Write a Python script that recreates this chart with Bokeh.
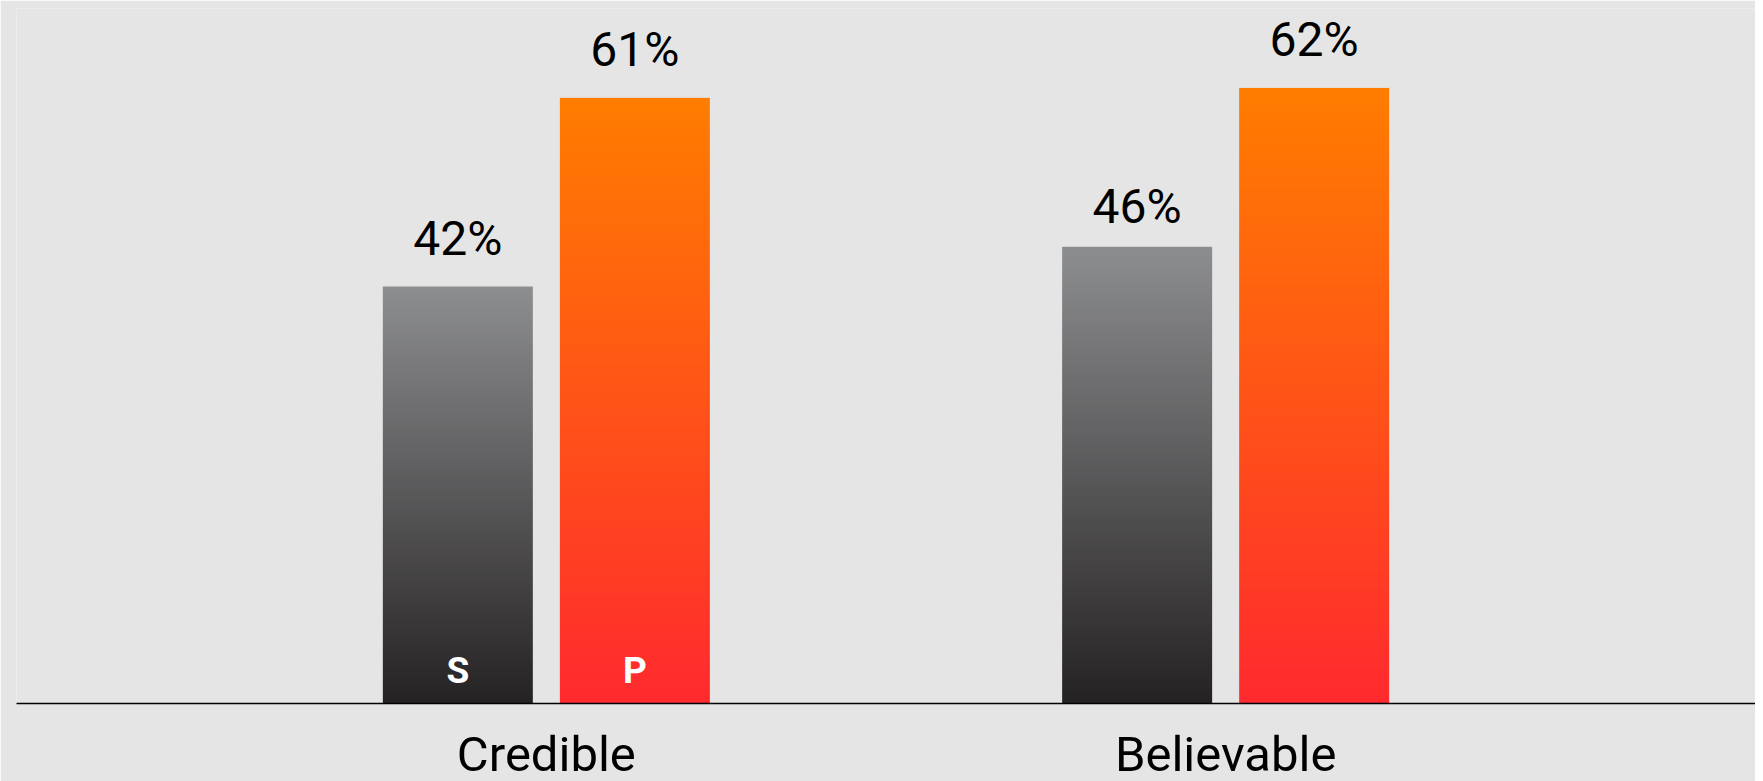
import numpy as np
from bokeh.plotting import figure
from bokeh.models import ColumnDataSource, FactorRange, Range1d
from bokeh.transform import dodge
from bokeh.core.properties import value
from bokeh.embed import file_html
from bokeh.resources import INLINE

# ---- data ----
categories = ["Credible", "Believable"]
series_names = ["S", "P"]
s_values = [42, 46]
p_values = [61, 62]

# ---- styles ----
BG = "#e5e5e5"
S_TOP, S_BOTTOM = (141, 142, 144), (37, 34, 35)
P_TOP, P_BOTTOM = (255, 125, 0), (255, 42, 46)
BAR_W = 0.2208
OFF = 0.1303
FONT = "Roboto"
S_LABEL_OFFSETS = [-48, -40]
P_LABEL_OFFSETS = [-48, -48]


def gradient(top, bottom, n=300):
    img = np.zeros((n, 1, 4), dtype=np.uint8)
    t = np.linspace(0.0, 1.0, n)  # row 0 = bottom
    for c in range(3):
        img[:, 0, c] = np.round(bottom[c] + (top[c] - bottom[c]) * t).astype(np.uint8)
    img[:, 0, 3] = 255
    return img.view(np.uint32).reshape(n, 1)


x_range = FactorRange(*categories, range_padding=0.28, range_padding_units="percent",
                      factor_padding=0)
p = figure(x_range=x_range, y_range=Range1d(0, 70),
           frame_width=1739, frame_height=695,
           min_border_left=16, min_border_right=0, min_border_top=8, min_border_bottom=70,
           output_backend="svg", toolbar_location=None, y_axis_location=None,
           background_fill_color=BG, border_fill_color=BG, outline_line_color=None)
p.xgrid.visible = False
p.ygrid.visible = False

s_src = ColumnDataSource(dict(cat=categories, v=s_values,
                              img=[gradient(S_TOP, S_BOTTOM) for _ in categories],
                              lbl=[f"{v}%" for v in s_values],
                              yoff=S_LABEL_OFFSETS))
p_src = ColumnDataSource(dict(cat=categories, v=p_values,
                              img=[gradient(P_TOP, P_BOTTOM) for _ in categories],
                              lbl=[f"{v}%" for v in p_values],
                              yoff=P_LABEL_OFFSETS))

for src, off in ((s_src, -OFF), (p_src, OFF)):
    p.image_rgba(image="img", x=dodge("cat", off - BAR_W / 2, range=x_range), y=0,
                 dw=BAR_W, dh="v", source=src)
    p.text(x=dodge("cat", off, range=x_range), y="v", text="lbl", source=src,
           text_font=value(FONT), text_font_size="48px", text_color="black",
           text_align="center", text_baseline="alphabetic", y_offset="yoff")

# series markers inside first group's bars
mark_src = ColumnDataSource(dict(cat=[categories[0]], txt=[series_names[0]]))
mark_src2 = ColumnDataSource(dict(cat=[categories[0]], txt=[series_names[1]]))
for src, off in ((mark_src, -OFF), (mark_src2, OFF)):
    p.text(x=dodge("cat", off, range=x_range), y=0, text="txt", source=src,
           text_font=value(FONT), text_font_size="37px", text_font_style="bold",
           text_color="white", text_align="center", text_baseline="alphabetic",
           y_offset=-33)

ax = p.xaxis[0]
ax.axis_line_color = "black"
ax.axis_line_width = 1.5
ax.major_tick_line_color = None
ax.minor_tick_line_color = None
ax.major_label_text_font = FONT
ax.major_label_text_font_size = "49px"
ax.major_label_text_color = "black"
ax.major_label_standoff = 16

html = file_html(p, INLINE)
html = html.replace("<body>", f'<body style="background-color:{BG};">', 1)
open("out.html", "w").write(html)
